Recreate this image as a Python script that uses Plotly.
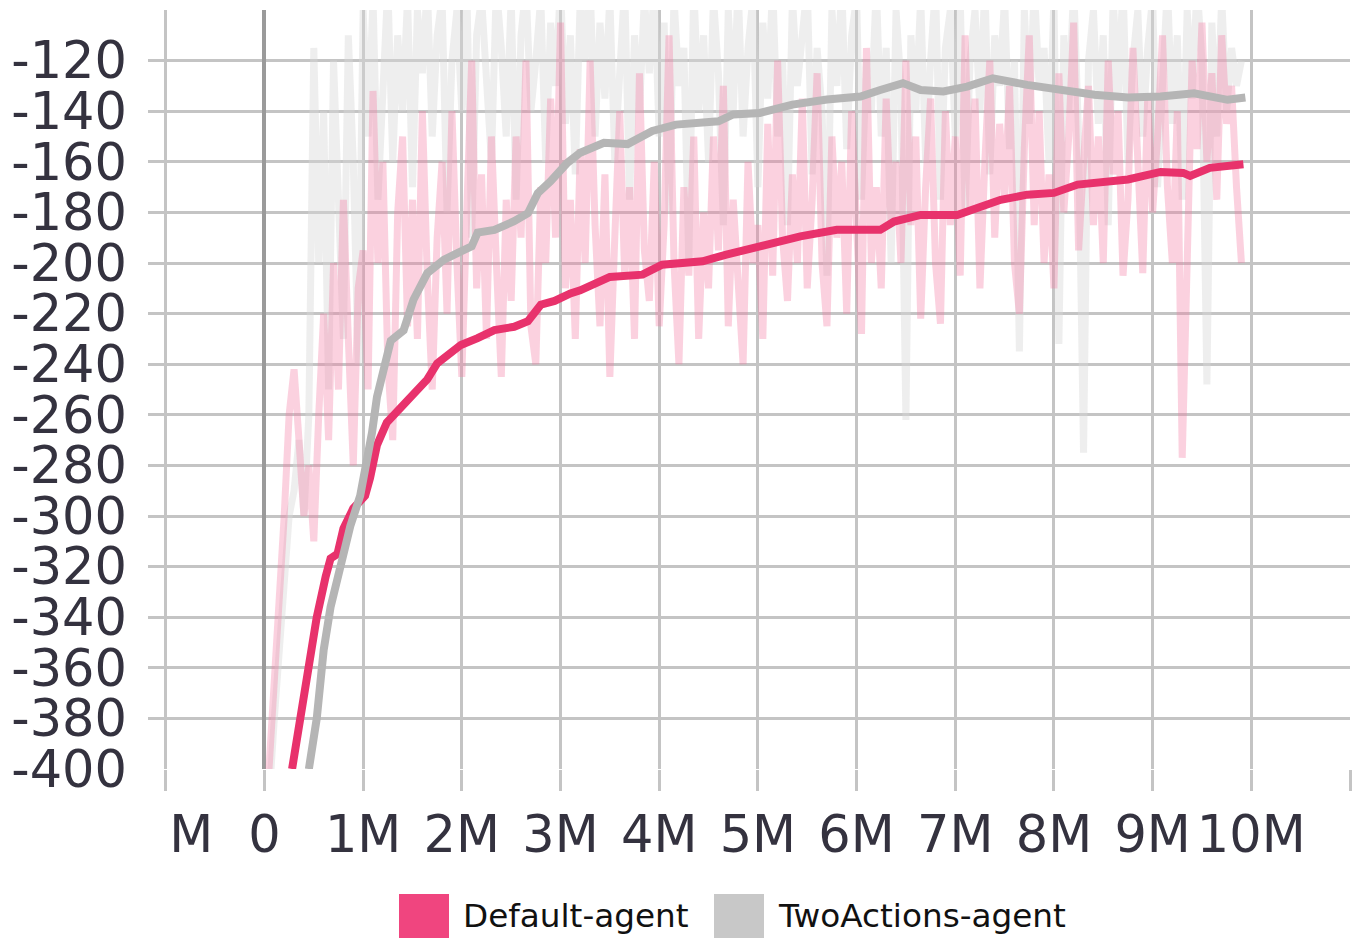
import plotly.graph_objects as go

# ---- data (steps in millions) ----
raw_steps = [round(0.05 * i, 2) for i in range(199)]

default_raw = [
    -430, -400, -370, -340, -300, -260, -242, -270, -300, -280,
    -310, -260, -220, -270, -200, -250, -175, -230, -280, -210,
    -195, -250, -132, -200, -160, -240, -270, -180, -150, -225,
    -175, -230, -140, -205, -250, -190, -160, -220, -140, -200,
    -245, -180, -120, -210, -165, -230, -150, -200, -245, -175,
    -215, -150, -190, -120, -225, -240, -170, -200, -135, -190,
    -105, -210, -175, -230, -155, -200, -120, -185, -225, -165,
    -245, -190, -140, -205, -170, -230, -125, -195, -215, -160,
    -225, -185, -110, -200, -240, -170, -205, -150, -230, -180,
    -210, -150, -195, -130, -225, -175, -205, -240, -160, -200,
    -185, -230, -145, -205, -120, -190, -215, -165, -200, -135,
    -210, -175, -125, -200, -225, -150, -190, -160, -220, -140,
    -185, -228, -115, -200, -170, -210, -135, -185, -160, -200,
    -120, -185, -150, -222, -170, -135, -200, -224, -140, -185,
    -150, -205, -110, -180, -135, -210, -160, -120, -190, -145,
    -175, -130, -200, -220, -155, -110, -185, -140, -200, -165,
    -210, -125, -180, -150, -105, -195, -160, -130, -185, -150,
    -200, -120, -165, -140, -205, -175, -115, -160, -204, -135,
    -180, -150, -110, -170, -200, -140, -277, -200, -120, -155,
    -105, -160, -125, -175, -110, -145, -130, -170, -200]

twoactions_raw = [
    -430, -410, -380, -350, -320, -300, -290, -270, -300, -260,
    -115, -200, -140, -250, -120, -180, -230, -110, -160, -240,
    -100, -150, -95, -175, -120, -90, -160, -110, -140, -95,
    -170, -100, -125, -90, -150, -110, -95, -180, -120, -100,
    -140, -90, -190, -110, -95, -130, -160, -90, -115, -150,
    -95, -175, -110, -90, -140, -120, -95, -160, -105, -130,
    -90, -145, -110, -165, -95, -120, -90, -150, -105, -135,
    -95, -160, -115, -90, -175, -110, -140, -95, -125, -90,
    -150, -105, -180, -95, -130, -115, -200, -90, -140, -110,
    -160, -95, -125, -185, -100, -140, -90, -150, -115, -95,
    -170, -105, -135, -90, -150, -120, -185, -95, -130, -110,
    -90, -165, -115, -140, -205, -100, -130, -90, -155, -110,
    -95, -175, -120, -140, -90, -150, -115, -200, -100, -130,
    -262, -110, -140, -95, -160, -120, -90, -175, -115, -100,
    -150, -95, -180, -120, -100, -140, -90, -165, -110, -130,
    -95, -155, -120, -235, -100, -145, -90, -130, -115, -160,
    -95, -232, -110, -140, -90, -150, -275, -120, -100, -145,
    -110, -185, -95, -135, -90, -160, -120, -100, -150, -115,
    -95, -170, -125, -90, -145, -110, -175, -100, -135, -90,
    -120, -248, -105, -150, -95, -140, -115, -130, -120]

default_steps = [0.28, 0.36, 0.45, 0.53, 0.62, 0.67, 0.74, 0.80, 0.90, 1.02,
                 1.07, 1.14, 1.24, 1.38, 1.55, 1.65, 1.75, 1.89, 1.99, 2.16,
                 2.33, 2.53, 2.67, 2.80, 2.94, 3.10, 3.20, 3.50, 3.83, 4.03,
                 4.44, 4.68, 5.02, 5.19, 5.43, 5.80, 6.04, 6.24, 6.38, 6.65,
                 7.02, 7.22, 7.46, 7.73, 8.00, 8.24, 8.75, 9.08, 9.31, 9.38,
                 9.58, 9.92]
default_smooth = [-400, -380, -357, -340, -324, -316.8, -315, -305, -297, -292,
                  -285, -272, -263, -257.5, -249.7, -246, -239.7, -235.7, -232.4, -229.7,
                  -226.5, -225.2, -223, -216.5, -215, -212, -210.8, -205.5, -204.6, -200.7,
                  -199.3, -196.7, -193.4, -192, -189.5, -186.9, -186.5, -186.9, -183.6, -181,
                  -181, -178.3, -175, -173, -172.3, -169, -167, -164, -164.4, -165.6,
                  -162.4, -161]

twoactions_steps = [0.45, 0.53, 0.60, 0.67, 0.77, 0.87, 0.97, 1.04, 1.09, 1.14,
                    1.21, 1.28, 1.41, 1.51, 1.65, 1.82, 1.96, 2.10, 2.16, 2.33,
                    2.53, 2.67, 2.77, 2.90, 3.07, 3.20, 3.44, 3.68, 3.93, 4.17,
                    4.60, 4.75, 5.02, 5.35, 5.70, 6.04, 6.24, 6.47, 6.65, 6.88,
                    7.12, 7.38, 7.73, 8.07, 8.41, 8.75, 9.08, 9.42, 9.76, 9.94]
twoactions_smooth = [-400, -380, -353, -336, -320, -304, -292, -278, -267, -253,
                     -240, -230.7, -226.6, -214.5, -204, -198.7, -196, -193.4, -188, -186.9,
                     -183.5, -180.3, -172.4, -167.7, -160.4, -156.4, -152.5, -153, -147.8, -145.3,
                     -144, -141.3, -140.7, -137.4, -135.4, -134.2, -131.6, -128.9, -131.6, -132.2,
                     -130.3, -127, -129.6, -131.6, -133.5, -134.6, -134.2, -132.9, -135.5, -134.6]

series_names = ["Default-agent", "TwoActions-agent"]

x_tickvals = [-1, 0, 1, 2, 3, 4, 5, 6, 7, 8, 9, 10, 11]
x_ticktext = ["<span style='color:rgba(0,0,0,0)'>-1</span>M", "0", "1M", "2M", "3M", "4M",
              "5M", "6M", "7M", "8M", "9M", "10M", ""]
y_tickvals = [-400, -380, -360, -340, -320, -300, -280, -260, -240, -220,
              -200, -180, -160, -140, -120, -100]
y_ticktext = ["-400", "-380", "-360", "-340", "-320", "-300", "-280", "-260", "-240", "-220",
              "-200", "-180", "-160", "-140", "-120", ""]

# ---- styles ----
PINK = "#e8326c"
PINK_LEG = "#f0457f"
GREY = "#b5b5b5"
GREY_LEG = "#c8c8c8"
GRID = "#c4c4c4"
TICKFONT = dict(family="DejaVu Sans", size=51, color="#34323f")

fig = go.Figure()
fig.add_trace(go.Scatter(x=raw_steps, y=twoactions_raw, mode="lines",
                         line=dict(color="rgba(215,215,215,0.42)", width=7),
                         showlegend=False, hoverinfo="skip"))
fig.add_trace(go.Scatter(x=raw_steps, y=default_raw, mode="lines",
                         line=dict(color="rgba(244,120,160,0.34)", width=7),
                         showlegend=False, hoverinfo="skip"))
fig.add_trace(go.Scatter(x=default_steps, y=default_smooth, mode="lines",
                         name=series_names[0], line=dict(color=PINK, width=8),
                         showlegend=False))
fig.add_trace(go.Scatter(x=twoactions_steps, y=twoactions_smooth, mode="lines",
                         name=series_names[1], line=dict(color=GREY, width=8),
                         showlegend=False))

fig.update_xaxes(range=[-1.18, 11.0], tickvals=x_tickvals, ticktext=x_ticktext,
                 showgrid=True, gridcolor=GRID, gridwidth=3,
                 zeroline=True, zerolinecolor="#9a9a9a", zerolinewidth=4,
                 ticks="outside", ticklen=21, tickwidth=3, tickcolor=GRID,
                 tickfont=TICKFONT, showline=False, automargin=False)
fig.update_yaxes(range=[-400, -100], tickvals=y_tickvals, ticktext=y_ticktext,
                 showgrid=True, gridcolor=GRID, gridwidth=3, zeroline=False,
                 ticks="", tickfont=TICKFONT, ticklabelstandoff=20, showline=False,
                 automargin=False)

# legend drawn as shapes + text
def px_x(p):
    return (p - 148) / 1202.0

def px_y(p):
    return (769 - p) / 759.0

LEGFONT = dict(family="DejaVu Sans", size=32.7, color="#111111")
shapes = [
    dict(type="rect", xref="paper", yref="paper", x0=px_x(399), x1=px_x(449),
         y0=px_y(940), y1=px_y(894), fillcolor=PINK_LEG, line=dict(width=0)),
    dict(type="rect", xref="paper", yref="paper", x0=px_x(714), x1=px_x(764),
         y0=px_y(940), y1=px_y(894), fillcolor=GREY_LEG, line=dict(width=0)),
]
annotations = [
    dict(xref="paper", yref="paper", x=px_x(461), y=px_y(916), text=series_names[0],
         showarrow=False, xanchor="left", yanchor="middle", font=LEGFONT),
    dict(xref="paper", yref="paper", x=px_x(776), y=px_y(916), text=series_names[1],
         showarrow=False, xanchor="left", yanchor="middle", font=LEGFONT),
]

fig.update_layout(width=1355, height=938, autosize=False,
                  margin=dict(l=148, r=5, t=10, b=169),
                  plot_bgcolor="white", paper_bgcolor="white",
                  showlegend=False, shapes=shapes, annotations=annotations)

fig.write_html("out.html", config={"displayModeBar": False},
               post_script="document.body.style.margin='0';document.body.style.overflow='hidden';")
